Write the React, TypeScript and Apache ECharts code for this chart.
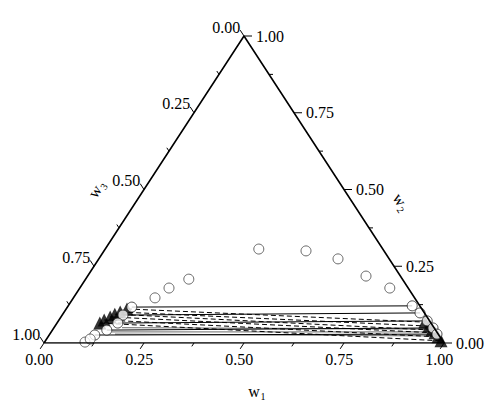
import React, { useEffect, useRef } from "react";
import * as echarts from "echarts";

// Binodal (open circles), ternary mass fractions (w1, w2); w3 = 1 - w1 - w2
const binodalW1 = [0.101, 0.109, 0.204, 0.223, 0.258, 0.384, 0.505, 0.598, 0.696, 0.775];
const binodalW2 = [0.003, 0.013, 0.147, 0.179, 0.208, 0.306, 0.300, 0.274, 0.218, 0.179];

// Experimental tie lines (solid, circles at both ends)
const expLeftW1 = [0.161, 0.152, 0.152, 0.136, 0.114];
const expLeftW2 = [0.117, 0.091, 0.065, 0.042, 0.026];
const expRightW1 = [0.860, 0.891, 0.922, 0.948, 0.968];
const expRightW2 = [0.121, 0.098, 0.072, 0.049, 0.029];

// Calculated tie lines (dashed, filled triangles at both ends)
const calcLeftW1 = [0.152, 0.140, 0.130, 0.123, 0.113, 0.107];
const calcLeftW2 = [0.111, 0.101, 0.094, 0.085, 0.075, 0.065];
const calcRightW1 = [0.918, 0.935, 0.949, 0.961, 0.975, 0.989];
const calcRightW2 = [0.068, 0.055, 0.042, 0.033, 0.020, 0.007];

// Second model tie lines (grey)
const greyLeftW1 = [0.152, 0.163, 0.170];
const greyLeftW2 = [0.036, 0.029, 0.050];
const greyRightW1 = [0.957, 0.969, 0.940];
const greyRightW2 = [0.036, 0.023, 0.045];

const majorTicks = [0, 0.25, 0.5, 0.75, 1];
const minorTicks = [0.125, 0.375, 0.625, 0.875];
const tickLabels = ["0.00", "0.25", "0.50", "0.75", "1.00"];

const FONT = '16px "Liberation Serif", "Times New Roman", serif';

const toXY = (w1: number, w2: number) => [w1 + w2 / 2, w2];

type AxisKind = "bottom" | "left" | "right";

function axisPoint(kind: AxisKind, v: number) {
  if (kind === "bottom") return [v, 0];
  if (kind === "left") return [(1 - v) / 2, 1 - v];
  return [1 - v / 2, v];
}

function makeAxisSeries(kind: AxisKind) {
  const data: number[][] = [];
  majorTicks.forEach((v, i) => data.push([v, 1, i]));
  minorTicks.forEach((v) => data.push([v, 0, -1]));
  return {
    type: "custom",
    coordinateSystem: "cartesian2d",
    silent: true,
    z: 5,
    data,
    renderItem: (params: any, api: any) => {
      const v = api.value(0);
      const major = api.value(1) === 1;
      const idx = api.value(2);
      const A = api.coord([0, 0]);
      const B = api.coord([1, 0]);
      const C = api.coord([0.5, 1]);
      let d: number[];
      if (kind === "bottom") d = [A[0] - C[0], A[1] - C[1]];
      else if (kind === "left") d = [C[0] - B[0], C[1] - B[1]];
      else d = [1, 0];
      const n = Math.hypot(d[0], d[1]);
      d = [d[0] / n, d[1] / n];
      const p = api.coord(axisPoint(kind, v));
      const len = major ? (kind === "right" ? 8 : 7) : 4;
      const e = [p[0] + d[0] * len, p[1] + d[1] * len];
      const children: any[] = [
        {
          type: "line",
          shape: { x1: p[0], y1: p[1], x2: e[0], y2: e[1] },
          style: { stroke: "#000", lineWidth: 1 },
        },
      ];
      if (major) {
        let tx = e[0], ty = e[1], align = "center", va = "top";
        if (kind === "bottom") { tx = e[0] - 1; ty = e[1] + 3; align = "center"; va = "top"; }
        else if (kind === "left") { tx = e[0]; ty = e[1] - 3; align = "right"; va = "middle"; }
        else { tx = e[0] + 4; ty = e[1]; align = "left"; va = "middle"; }
        children.push({
          type: "text",
          x: tx,
          y: ty,
          style: { text: tickLabels[idx], font: FONT, fill: "#000", align, verticalAlign: va },
        });
      }
      return { type: "group", children };
    },
  };
}

export default function App() {
  const ref = useRef<HTMLDivElement>(null);
  useEffect(() => {
    if (!ref.current) return;
    const chart = echarts.init(ref.current, undefined, { renderer: "svg" });
    const series: any[] = [];

    series.push({
      type: "line",
      data: [toXY(0, 0), toXY(1, 0), toXY(0, 1), toXY(0, 0)],
      symbol: "none",
      lineStyle: { color: "#000", width: 1.6 },
      z: 4,
      silent: true,
    });

    greyLeftW1.forEach((_, i) => {
      series.push({
        type: "line",
        data: [toXY(greyLeftW1[i], greyLeftW2[i]), toXY(greyRightW1[i], greyRightW2[i])],
        symbol: "none",
        lineStyle: { color: "#888", width: 1.2 },
        z: 1,
      });
    });
    calcLeftW1.forEach((_, i) => {
      series.push({
        type: "line",
        data: [toXY(calcLeftW1[i], calcLeftW2[i]), toXY(calcRightW1[i], calcRightW2[i])],
        symbol: "none",
        lineStyle: { color: "#000", width: 1, type: [5, 3] },
        z: 2,
      });
    });
    expLeftW1.forEach((_, i) => {
      series.push({
        type: "line",
        data: [toXY(expLeftW1[i], expLeftW2[i]), toXY(expRightW1[i], expRightW2[i])],
        symbol: "none",
        lineStyle: { color: "#000", width: 1 },
        z: 2,
      });
    });

    series.push({
      type: "scatter",
      symbol: "triangle",
      symbolSize: 13,
      itemStyle: { color: "#000" },
      z: 3,
      data: [
        ...calcLeftW1.map((w, i) => toXY(w, calcLeftW2[i])),
        ...calcRightW1.map((w, i) => toXY(w, calcRightW2[i])),
      ],
    });
    series.push({
      type: "scatter",
      symbol: "circle",
      symbolSize: 10,
      itemStyle: { color: "#fff", borderColor: "#222", borderWidth: 1 },
      z: 3,
      data: [
        ...expLeftW1.map((w, i) => toXY(w, expLeftW2[i])),
        ...expRightW1.map((w, i) => toXY(w, expRightW2[i])),
      ],
    });
    series.push({
      type: "scatter",
      symbol: "circle",
      symbolSize: 10,
      itemStyle: { color: "#fff", borderColor: "#444", borderWidth: 1 },
      z: 3,
      data: binodalW1.map((w, i) => toXY(w, binodalW2[i])),
    });

    series.push(makeAxisSeries("bottom"));
    series.push(makeAxisSeries("left"));
    series.push(makeAxisSeries("right"));

    const sub = (x: number, y: number, rot: number, s: string) => ({
      type: "group",
      x,
      y,
      rotation: rot,
      children: [
        {
          type: "text",
          x: -4,
          y: 0,
          style: { text: "w", font: '16px "Liberation Serif", serif', fill: "#000", align: "center", verticalAlign: "middle" },
        },
        {
          type: "text",
          x: 5,
          y: 5,
          style: { text: s, font: '10px "Liberation Serif", serif', fill: "#000", align: "center", verticalAlign: "middle" },
        },
      ],
    });
    const ang = (57 * Math.PI) / 180;

    chart.setOption({
      animation: false,
      backgroundColor: "#fff",
      grid: { left: 44, top: 36, width: 400, height: 307 },
      xAxis: { type: "value", min: 0, max: 1, show: false },
      yAxis: { type: "value", min: 0, max: 1, show: false },
      series,
      graphic: [sub(258, 391, 0, "1"), sub(402, 203, -ang, "2"), sub(97, 188, ang, "3")],
    });
    return () => chart.dispose();
  }, []);
  return (
    <div
      ref={ref}
      style={{ position: "absolute", left: 0, top: 0, width: 500, height: 409 }}
    />
  );
}
